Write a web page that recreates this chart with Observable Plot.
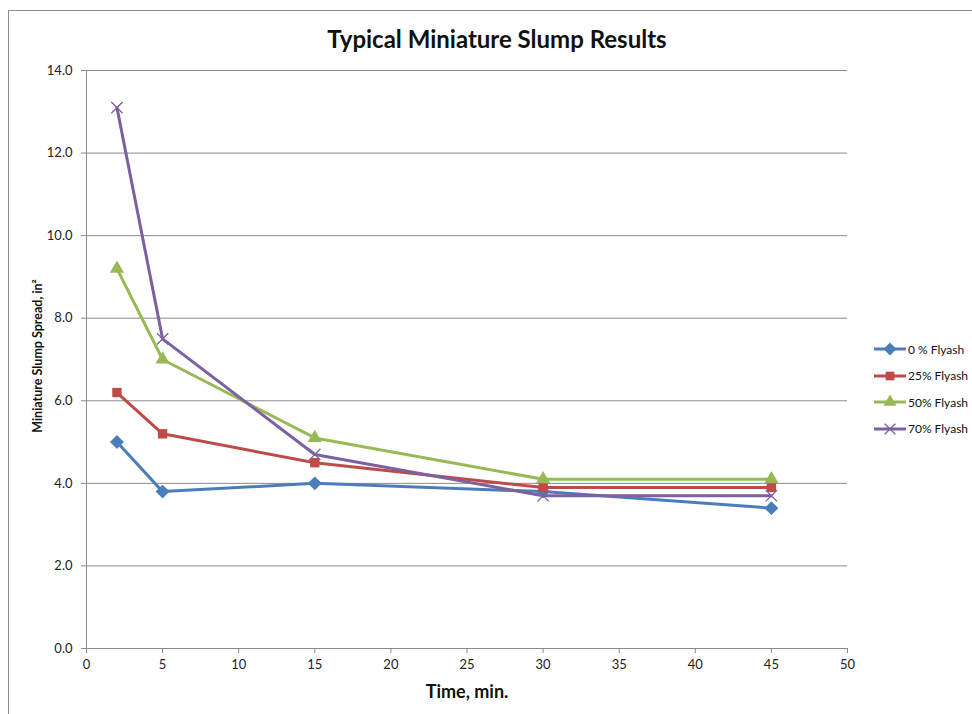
<!DOCTYPE html>
<html><head><meta charset="utf-8">
<script src="https://cdn.jsdelivr.net/npm/d3@7"></script>
<script src="https://cdn.jsdelivr.net/npm/@observablehq/plot@0.6"></script>
<style>
body{margin:0;background:#fff;font-family:Lato,"Liberation Sans",sans-serif;color:#111;}
#wrap{position:relative;width:972px;height:714px;overflow:hidden;}
#frame{position:absolute;left:8px;top:10px;width:1100px;height:800px;border:1px solid #8c8c8c;}
#title{position:absolute;left:0;top:24px;width:994px;text-align:center;font-weight:bold;font-size:24px;}
#ylabel{position:absolute;left:37px;top:356px;transform:translate(-50%,-50%) rotate(-90deg);white-space:nowrap;font-weight:bold;font-size:12.5px;}
#xlabel{position:absolute;left:467px;top:680px;transform:translateX(-50%);font-weight:bold;font-size:18px;white-space:nowrap;}
#legend{position:absolute;left:874px;top:336px;font-size:12px;white-space:nowrap;width:98px;}
.li{display:flex;align-items:center;height:26.5px;white-space:nowrap;}
.li svg{margin-right:2px;flex:none;}
#chart{position:absolute;left:0;top:0;}
</style></head>
<body><div id="wrap"><div id="frame"></div><div id="chart"></div>
<div id="title">Typical Miniature Slump Results</div>
<div id="ylabel">Miniature Slump Spread, in²</div>
<div id="xlabel">Time, min.</div>
<div id="legend"></div></div>
<script>
const times = [2, 5, 15, 30, 45];
const seriesNames = ["0 % Flyash", "25% Flyash", "50% Flyash", "70% Flyash"];
const flyash0 = [5.0, 3.8, 4.0, 3.8, 3.4];
const flyash25 = [6.2, 5.2, 4.5, 3.9, 3.9];
const flyash50 = [9.2, 7.0, 5.1, 4.1, 4.1];
const flyash70 = [13.1, 7.5, 4.7, 3.7, 3.7];
const xTicks = [0, 5, 10, 15, 20, 25, 30, 35, 40, 45, 50];
const yTicks = [0, 2, 4, 6, 8, 10, 12, 14];

const colors = ["#4A7EBB", "#BE4B48", "#98B954", "#7D60A0"];
const squareDiamond = {draw(ctx, size) {
  const r = Math.sqrt(size / 2) * 1.05;
  ctx.moveTo(0, -r); ctx.lineTo(r, 0); ctx.lineTo(0, r); ctx.lineTo(-r, 0); ctx.closePath();
}};
const symbols = [squareDiamond, "square", "triangle", "times"];
const values = [flyash0, flyash25, flyash50, flyash70];
const rows = seriesNames.flatMap((s, i) => times.map((t, j) => ({series: s, time: t, value: values[i][j]})));

const filled = rows.filter(d => d.series !== seriesNames[3]);
const crosses = rows.filter(d => d.series === seriesNames[3]);

const chart = Plot.plot({
  width: 972, height: 714,
  marginLeft: 86, marginRight: 125, marginTop: 70, marginBottom: 66,
  style: {fontFamily: "Lato, 'Liberation Sans', sans-serif", fontSize: "13px", background: "transparent"},
  x: {domain: [0, 50]},
  y: {domain: [0, 14]},
  color: {domain: seriesNames, range: colors},
  symbol: {domain: seriesNames, range: symbols},
  marks: [
    Plot.ruleY(yTicks, {stroke: "#8a8a8a", strokeWidth: 1}),
    Plot.ruleX([0], {stroke: "#8a8a8a", strokeWidth: 1}),
    Plot.axisY({ticks: yTicks, tickFormat: d3.format(".1f"), tickSize: 5, tickPadding: 9, stroke: "#8a8a8a", fill: "#222", label: null, fontSize: 13}),
    Plot.axisX({ticks: xTicks, tickSize: 5, tickPadding: 6, stroke: "#8a8a8a", fill: "#222", label: null, fontSize: 13}),
    Plot.line(rows, {x: "time", y: "value", z: "series", stroke: "series", strokeWidth: 3, strokeLinejoin: "round"}),
    Plot.dot(filled, {x: "time", y: "value", symbol: "series", fill: "series", r: 5.3}),
    Plot.dot(crosses, {x: "time", y: "value", symbol: "series", stroke: "series", r: 5.2, strokeWidth: 1.3})
  ]
});
document.getElementById("chart").appendChild(chart);

const lg = d3.select("#legend");
seriesNames.forEach((s, i) => {
  const item = lg.append("div").attr("class", "li");
  const svg = item.append("svg").attr("width", 32).attr("height", 14);
  svg.append("line").attr("x1", 0).attr("x2", 32).attr("y1", 7).attr("y2", 7).attr("stroke", colors[i]).attr("stroke-width", 3);
  const sym = [squareDiamond, d3.symbolSquare, d3.symbolTriangle, d3.symbolX][i];
  const p = svg.append("path").attr("transform", "translate(16,7)").attr("d", d3.symbol(sym, 75)());
  if (i === 3) p.attr("fill", "none").attr("stroke", colors[i]).attr("stroke-width", 1.3);
  else p.attr("fill", colors[i]);
  item.append("span").text(s);
});
</script></body></html>
